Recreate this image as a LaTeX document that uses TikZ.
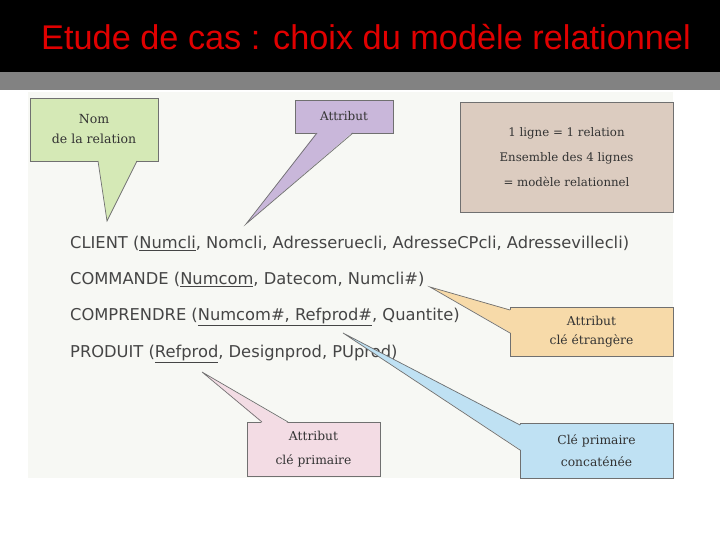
\documentclass[tikz,border=0pt]{standalone}
\usepackage{fontspec}
\setmainfont{DejaVu Serif}
\newfontfamily\titlefont{Liberation Sans}
\newfontfamily\handfont{DejaVu Sans}
\usetikzlibrary{positioning}
\definecolor{titlered}{HTML}{E00000}
\definecolor{bandgray}{HTML}{828282}
\definecolor{scanbg}{HTML}{F7F8F4}
\definecolor{bord}{HTML}{707070}
\definecolor{txtgray}{HTML}{333333}
\definecolor{handgray}{HTML}{454545}
\definecolor{vertnom}{HTML}{D5E9B6}
\definecolor{violet}{HTML}{C9B7DA}
\definecolor{brun}{HTML}{DCCCC0}
\definecolor{orange}{HTML}{F7DAA9}
\definecolor{rose}{HTML}{F3DCE4}
\definecolor{bleu}{HTML}{BFE1F3}

\begin{document}
\begin{tikzpicture}[x=1pt,y=-1pt,
	bulle/.style={draw=bord, line width=0.7pt, align=center, inner sep=0pt,
		font=\fontsize{12}{20}\selectfont, text=txtgray},
	queue/.style={draw=bord, line width=0.7pt}]
\useasboundingbox (0,0) rectangle (720,540);
\fill[white] (0,0) rectangle (720,540);
% title band
\fill[black] (0,0) rectangle (720,72);
\fill[bandgray] (0,72) rectangle (720,90);
\node[titlered, font=\titlefont\fontsize{34.3}{38}\selectfont] (titre) at (366,37)
	{Etude de cas : choix du modèle relationnel};
\fill[scanbg] (28,92) rectangle (673,478);

% relations
\foreach \y/\nm/\txt in {
	243/client/{CLIENT (\underline{Numcli}, Nomcli, Adresseruecli, AdresseCPcli, Adressevillecli)},
	279/commande/{COMMANDE (\underline{Numcom}, Datecom, Numcli\#)},
	317/comprendre/{COMPRENDRE (\underline{Numcom\#, Refprod\#}, Quantite)},
	354/produit/{PRODUIT (\underline{Refprod}, Designprod, PUprod)}}
\node[anchor=west, inner sep=0pt, text=handgray,
	font=\handfont\fontsize{16.3}{19}\selectfont] (\nm) at (70,\y) {\txt};

% callouts
\coordinate (nomtip) at (107,221);
\coordinate (attrtip) at (246,224);
\coordinate (fktip) at (430,287);
\coordinate (pktip) at (202,372);
\coordinate (cattip) at (343,333);

\node[bulle, fill=vertnom, minimum width=128, minimum height=63,
	font=\fontsize{12.5}{20}\selectfont] (nom) at (94,129.5)
	{Nom\\de la relation};
\fill[vertnom] (98,160) -- (nomtip) -- (137,160) -- cycle;
\draw[queue] (98,161) -- (nomtip) -- (137,161);

\node[bulle, fill=violet, minimum width=98, minimum height=33] (attr) at (344,116.5)
	{Attribut};
\fill[violet] (317,132) -- (attrtip) -- (353,132) -- cycle;
\draw[queue] (317,133) -- (attrtip) -- (353,133);

\node[bulle, fill=brun, minimum width=213, minimum height=110,
	font=\fontsize{11.8}{25}\selectfont] (modele) at (566.5,157)
	{1 ligne = 1 relation\\Ensemble des 4 lignes\\= modèle relationnel};

\node[bulle, fill=orange, minimum width=163, minimum height=49,
	font=\fontsize{12.3}{19}\selectfont] (fk) at (591.5,331.5)
	{Attribut\\clé étrangère};
\fill[orange] (511,310) -- (fktip) -- (511,333) -- cycle;
\draw[queue] (510,310) -- (fktip) -- (510,333);

\node[bulle, fill=rose, minimum width=133, minimum height=54,
	font=\fontsize{12.3}{24}\selectfont] (pk) at (313.5,449)
	{Attribut\\clé primaire};
\fill[rose] (262,423) -- (pktip) -- (288,423) -- cycle;
\draw[queue] (262,422) -- (pktip) -- (288,422);

\node[bulle, fill=bleu, minimum width=153, minimum height=55,
	font=\fontsize{12.3}{22}\selectfont] (cat) at (596.5,450.5)
	{Clé primaire\\concaténée};
\fill[bleu] (521,425) -- (cattip) -- (521,450) -- cycle;
\draw[queue] (520,425) -- (cattip) -- (520,450);
\end{tikzpicture}
\end{document}
